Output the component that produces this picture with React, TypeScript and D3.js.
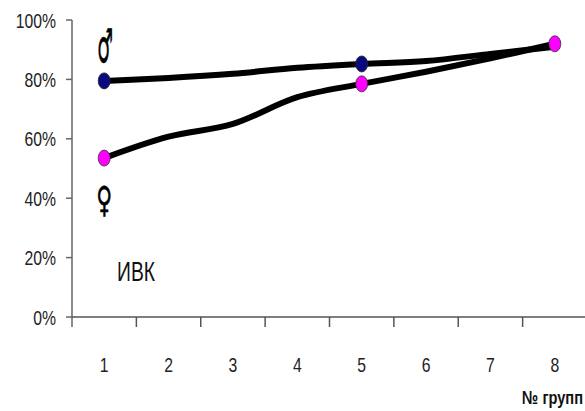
import React from "react";
import * as d3 from "d3";

const groups = ["1", "2", "3", "4", "5", "6", "7", "8"];
const maleValues = [79.5, 80.5, 81.9, 83.9, 85.2, 86.2, 88.6, 91];
const femaleValues = [53.5, 60.7, 65, 74, 78.5, 82.6, 87.1, 92];
const maleMarkerIdx = [0, 4];
const femaleMarkerIdx = [0, 4, 7];
const yTicks = [0, 20, 40, 60, 80, 100];
const xTitle = "№ групп";
const note = "ИВК";

const W = 585, H = 411;
const FONT = "'Liberation Sans', Arial, sans-serif";

function T(props: {
  x: number; y: number; sx?: number; sy?: number; anchor?: string; size: number;
  weight?: string; family?: string; fill?: string; stroke?: string; sw?: number; children: React.ReactNode;
}) {
  const { x, y, sx = 1, sy = 1, anchor = "start", size, weight = "normal", family = FONT, fill = "#222", stroke = "none", sw = 0, children } = props;
  return (
    <text
      transform={`translate(${x},${y}) scale(${sx},${sy})`}
      textAnchor={anchor}
      fontFamily={family}
      fontSize={size}
      fontWeight={weight}
      fill={fill}
      stroke={stroke}
      strokeWidth={sw}
    >
      {children}
    </text>
  );
}

export default function App() {
  const x = d3.scaleBand<string>().domain(groups).range([72, 587]);
  const y = d3.scaleLinear().domain([0, 100]).range([317, 20]);
  const cx = (i: number) => (x(groups[i]) as number) + x.bandwidth() / 2;
  const line = d3
    .line<number>()
    .x((_, i) => cx(i))
    .y((d) => y(d))
    .curve(d3.curveCatmullRom.alpha(0.5));
  const boundaries = groups.map((g) => x(g) as number).slice(1);
  return (
    <svg width={W} height={H} style={{ position: "absolute", left: 0, top: 0, background: "#fff" }}>
      {/* axes */}
      <line x1={72} x2={72} y1={20} y2={327} stroke="#666" strokeWidth={1.5} />
      <line x1={72} x2={587} y1={317} y2={317} stroke="#555" strokeWidth={1.5} />
      {yTicks.map((t) => (
        <g key={t}>
          <line x1={66} x2={72} y1={y(t)} y2={y(t)} stroke="#666" strokeWidth={1.5} />
          <T x={56} y={y(t) + 7.5} sx={0.75} anchor="end" size={21}>
            {t}%
          </T>
        </g>
      ))}
      {boundaries.map((b, i) => (
        <line key={i} x1={b} x2={b} y1={317} y2={327} stroke="#555" strokeWidth={1.5} />
      ))}
      {groups.map((g, i) => (
        <T key={g} x={cx(i)} y={372} sx={0.75} anchor="middle" size={21}>
          {g}
        </T>
      ))}
      <T x={583} y={404} sx={0.77} anchor="end" size={19} weight="bold" fill="#111">
        {xTitle}
      </T>
      <T x={117} y={281} sx={0.69} size={28} fill="#111">
        {note}
      </T>
      {/* lines */}
      <path d={line(maleValues) || ""} fill="none" stroke="#000" strokeWidth={6} strokeLinecap="round" />
      <path d={line(femaleValues) || ""} fill="none" stroke="#000" strokeWidth={6} strokeLinecap="round" />
      {maleMarkerIdx.map((i) => (
        <ellipse key={"m" + i} cx={cx(i)} cy={y(maleValues[i])} rx={6} ry={8} fill="#0a0a80" stroke="#222" strokeWidth={0.8} />
      ))}
      {femaleMarkerIdx.map((i) => (
        <ellipse key={"f" + i} cx={cx(i)} cy={y(femaleValues[i])} rx={6} ry={8} fill="#ff00ff" stroke="#333" strokeWidth={0.8} />
      ))}
      {/* gender symbols */}
      <T x={cx(0) + 1} y={62} sx={0.55} sy={1.45} anchor="middle" size={32} weight="bold" family="'DejaVu Sans', sans-serif" fill="#000" stroke="#000" sw={0.6}>
        ♂
      </T>
      <T x={cx(0)} y={212.4} sx={0.68} sy={1.12} anchor="middle" size={32} weight="bold" family="'DejaVu Sans', sans-serif" fill="#000" stroke="#000" sw={0.5}>
        ♀
      </T>
    </svg>
  );
}
